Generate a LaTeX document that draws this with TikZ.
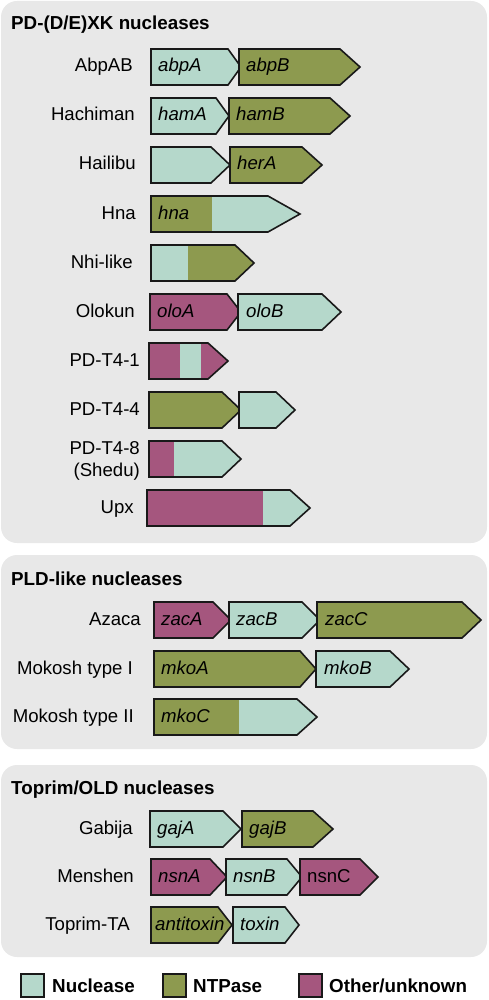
\documentclass[tikz,border=0pt]{standalone}
\usepackage{fontspec}
\setmainfont{Liberation Sans}
\definecolor{nucl}{HTML}{B5D8CB}
\definecolor{ntp}{HTML}{8D9A4F}
\definecolor{other}{HTML}{A5567E}
\definecolor{panelbg}{HTML}{E8E8E8}
\tikzset{
  gene/.style={draw=black!90, line width=1.6pt, line join=miter},
  genetxt/.style={anchor=base west, inner sep=0pt, font=\fontsize{18.6}{22}\selectfont\itshape},
  systxt/.style={anchor=base east, inner sep=0pt, align=right, font=\fontsize{18.6}{22}\selectfont},
  headtxt/.style={anchor=base west, inner sep=0pt, font=\fontsize{18.8}{22}\selectfont\bfseries},
  panel/.style={fill=panelbg, rounded corners=16pt},
}
\begin{document}
\begin{tikzpicture}[x=1pt, y=-1pt]
    \useasboundingbox (0,0) rectangle (488,1000);

    % Panels
    \fill[panel] (1,1) rectangle (487,543);
    \fill[panel] (1,555) rectangle (487,749);
    \fill[panel] (1,765) rectangle (487,957);

    % Panel titles
    \node[headtxt] (pdxk) at (11,30) {PD-(D/E)XK nucleases};
    \node[headtxt] (pld) at (11,585) {PLD-like nucleases};
    \node[headtxt] (toprim) at (11,794) {Toprim/OLD nucleases};

    % System names
    \foreach \nm/\xr/\yc/\txt in {abpab/133/67/AbpAB, hachiman/135/116/Hachiman,
        hailibu/136/165/Hailibu, hna/136/214/Hna, nhi/133/263/Nhi-like,
        olokun/135/312/Olokun, pdta/140/361/PD-T4-1, pdtb/140/410/PD-T4-4,
        upx/134/508/Upx, azaca/141/620/Azaca, mokoshi/133/669/Mokosh type I,
        mokoshii/134/717/Mokosh type II, gabija/133/829/Gabija,
        menshen/134/877/Menshen, toprimta/130/925/Toprim-TA} {
        \node[systxt] (\nm) at (\xr,\yc+5) {\txt};
    }
    \node[systxt] (shedu) at (140,476) {PD-T4-8\\(Shedu)};

    % Single-colour genes: x start / body end / tip / centre y / colour
    \foreach \xa/\xb/\xc/\yc/\col in {151/228/241/67/nucl, 239/340/360/67/ntp,
        151/216/229/116/nucl, 229/330/350/116/ntp,
        151/211/230/165/nucl, 230/302/322/165/ntp,
        150/227/241/312/other, 238/322/341/312/nucl,
        149/222/241/410/ntp, 239/276/295/410/nucl,
        154/213/231/620/other, 229/302/320/620/nucl, 317/462/481/620/ntp,
        154/300/316/669/ntp, 316/390/409/669/nucl,
        150/223/241/829/nucl, 242/313/333/829/ntp,
        151/210/227/877/other, 226/287/302/877/nucl, 300/360/378/877/other,
        151/218/232/925/ntp, 233/285/299/925/nucl} {
        \filldraw[gene, fill=\col] (\xa,\yc-18) -- (\xb,\yc-18) -- (\xc,\yc)
            -- (\xb,\yc+18) -- (\xa,\yc+18) -- cycle;
    }

    % Two-colour genes: x start / split / body end / tip / centre y / colours
    \foreach \xa/\xs/\xb/\xc/\yc/\ca/\cb in {151/212/268/300/214/ntp/nucl,
        151/188/235/254/263/nucl/ntp, 149/174/222/241/459/other/nucl,
        147/263/290/310/508/other/nucl, 154/239/297/317/717/ntp/nucl} {
        \fill[\ca] (\xa,\yc-18) rectangle (\xs,\yc+18);
        \fill[\cb] (\xs,\yc-18) -- (\xb,\yc-18) -- (\xc,\yc)
            -- (\xb,\yc+18) -- (\xs,\yc+18) -- cycle;
        \draw[gene] (\xa,\yc-18) -- (\xb,\yc-18) -- (\xc,\yc)
            -- (\xb,\yc+18) -- (\xa,\yc+18) -- cycle;
    }

    % PD-T4-1 (three parts)
    \fill[other] (149,343) rectangle (180,379);
    \fill[nucl] (180,343) rectangle (201,379);
    \fill[other] (201,343) -- (208,343) -- (228,361) -- (208,379) -- (201,379) -- cycle;
    \draw[gene] (149,343) -- (208,343) -- (228,361) -- (208,379) -- (149,379) -- cycle;

    % Gene names
    \foreach \nm/\xt/\yc/\txt in {abpA/158/67/abpA, abpB/246/67/abpB,
        hamA/158/116/hamA, hamB/236/116/hamB, herA/237/165/herA,
        hnaG/158/214/hna, oloA/157/312/oloA, oloB/246/312/oloB,
        zacA/161/620/zacA, zacB/236/620/zacB, zacC/325/620/zacC,
        mkoA/161/669/mkoA, mkoB/324/669/mkoB, mkoC/161/717/mkoC,
        gajA/157/829/gajA, gajB/249/829/gajB,
        nsnA/158/877/nsnA, nsnB/233/877/nsnB,
        antitox/155/925/antitoxin, tox/240/925/toxin} {
        \node[genetxt] (\nm) at (\xt,\yc+5) {\txt};
    }
    \node[genetxt, font=\fontsize{18.6}{22}\selectfont\upshape] (nsnC) at (307,882) {nsnC};

    % Legend
    \filldraw[gene, fill=nucl] (21,974) rectangle (44,997);
    \node[headtxt] (legnucl) at (52,992) {Nuclease};
    \filldraw[gene, fill=ntp] (163,974) rectangle (186,997);
    \node[headtxt] (legntp) at (193,992) {NTPase};
    \filldraw[gene, fill=other] (299,974) rectangle (322,997);
    \node[headtxt] (legother) at (329,992) {Other/unknown};
\end{tikzpicture}
\end{document}
